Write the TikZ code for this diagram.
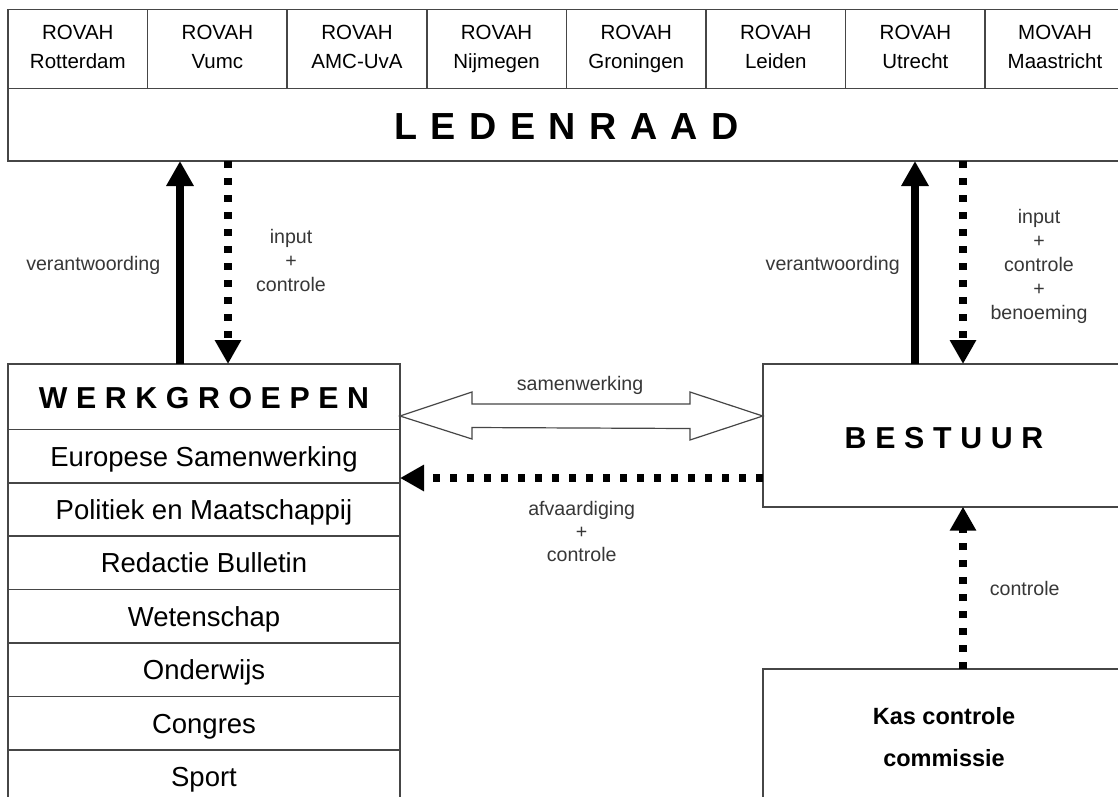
\documentclass[tikz,border=0pt]{standalone}
\usepackage{fontspec}
\setmainfont{Liberation Sans}
\usetikzlibrary{arrows.meta,calc}
\definecolor{boxgray}{RGB}{70,70,70}
\definecolor{labelgray}{RGB}{55,55,55}
\newlength\lsp
\begin{document}
\begin{tikzpicture}[x=1pt,y=-1pt,
  box/.style={draw=boxgray, line width=1.6pt, rectangle, inner sep=0pt, outer sep=0pt},
  colbox/.style={box, minimum width=139.6pt, minimum height=79pt, align=center,
                 font=\fontsize{20.5}{29}\selectfont},
  itembox/.style={box, minimum width=392pt, minimum height=53.4pt,
                  font=\fontsize{27.5}{30}\selectfont, text height=20pt, text depth=0pt},
  lbl/.style={inner sep=0pt, outer sep=0pt, text=labelgray, align=center,
              font=\fontsize{19.6}{24}\selectfont},
  solidarr/.style={draw=black, line width=8.5pt, -{Triangle[length=25pt,width=26pt]}},
  dotarr/.style={draw=black, line width=7.5pt, dash pattern=on 7pt off 10pt,
                 -{Triangle[length=24pt,width=25pt]}},
  dblarrow/.style={draw=boxgray, line width=1.2pt, fill=white, line join=miter}
]
\useasboundingbox (0,0) rectangle (1118,796);
\clip (0,0) rectangle (1118,796);
\fill[white] (0,0) rectangle (1118,796);

% top row
\foreach \i/\a/\b in {1/ROVAH/Rotterdam, 2/ROVAH/Vumc, 3/ROVAH/AMC-UvA, 4/ROVAH/Nijmegen,
                      5/ROVAH/Groningen, 6/ROVAH/Leiden, 7/ROVAH/Utrecht, 8/MOVAH/Maastricht}
  \node[colbox] (r\i) at ({77.8+139.6*(\i-1)},48.8)
    {\rule{0pt}{15pt}\a\\\b\rule[-5pt]{0pt}{5pt}};

% ledenraad
\node[box, minimum width=1117pt, minimum height=72.7pt, text height=29.3pt, text depth=0pt,
      font=\fontsize{37.7}{40}\selectfont\bfseries] (leden) at (566.5,124.65)
  {\setlength\lsp{13.5pt}L\kern\lsp E\kern\lsp D\kern\lsp E\kern\lsp N\kern\lsp R\kern\lsp A\kern\lsp A\kern\lsp D};

% werkgroepen
\node[box, minimum width=392pt, minimum height=65.3pt, text height=23.4pt, text depth=0pt,
      font=\fontsize{30.3}{32}\selectfont\bfseries] (werk) at (204,396.65)
  {\setlength\lsp{8.6pt}W\kern\lsp E\kern\lsp R\kern\lsp K\kern\lsp G\kern\lsp R\kern\lsp O\kern\lsp E\kern\lsp P\kern\lsp E\kern\lsp N};
\foreach \i/\t in {1/Europese Samenwerking, 2/Politiek en Maatschappij, 3/Redactie Bulletin,
                   4/Wetenschap, 5/Onderwijs, 6/Congres, 7/Sport}
  \node[itembox] (w\i) at (204,{456+53.4*(\i-1)}) {\t};

% bestuur
\node[box, minimum width=362.6pt, minimum height=142.7pt, text height=26pt, text depth=0pt,
      font=\fontsize{30.3}{32}\selectfont\bfseries] (bes) at (944,435.35)
  {\setlength\lsp{8.7pt}B\kern\lsp E\kern\lsp S\kern\lsp T\kern\lsp U\kern\lsp U\kern\lsp R};

% kas controle commissie
\node[box, minimum width=362.6pt, minimum height=142pt, align=center,
      font=\fontsize{23.5}{42}\selectfont\bfseries] (kas) at (944,740)
  {\rule{0pt}{17.5pt}Kas controle\\commissie\rule[-7.5pt]{0pt}{7.5pt}};

% helper coordinates for connector positions
\coordinate (xa) at (180,0);
\coordinate (xb) at (228,0);
\coordinate (xc) at (915,0);
\coordinate (xd) at (963,0);
\coordinate (ya) at (0,416);
\coordinate (yb) at (0,478);

% vertical arrows
\draw[solidarr] (werk.north -| xa) -- (leden.south -| xa);
\draw[dotarr] (leden.south -| xb) -- (werk.north -| xb);
\draw[solidarr] (bes.north -| xc) -- (leden.south -| xc);
\draw[dotarr] (leden.south -| xd) -- (bes.north -| xd);
\draw[dotarr] (kas.north -| xd) -- (bes.south -| xd);
\draw[dotarr] (bes.west |- yb) -- (werk.east |- yb);

% double open arrow (samenwerking)
\draw[dblarrow] (werk.east |- ya) -- ++(72,-24) -- ++(0,12)
   -- ($(bes.west |- ya)+(-72.7,-12)$) -- ++(0,-12) -- (bes.west |- ya)
   -- ++(-72.7,24) -- ++(0,-11.5) -- ($(werk.east |- ya)+(72,11.5)$) -- ++(0,11.5) -- cycle;

% labels
\node[lbl, anchor=base] (l1) at (93.3,270) {verantwoording};
\node[lbl, anchor=north] (l2) at (291,228.3) {\rule{0pt}{15pt}input\\+\\controle};
\node[lbl, anchor=base] (l3) at (832.7,270) {verantwoording};
\node[lbl, anchor=north] (l4) at (1039,208.3) {\rule{0pt}{15pt}input\\+\\controle\\+\\benoeming};
\node[lbl, anchor=base] (l5) at (580,390) {samenwerking};
\node[lbl, anchor=north, font=\fontsize{19.6}{23.4}\selectfont] (l6) at (581.7,500)
  {\rule{0pt}{15pt}afvaardiging\\+\\controle};
\node[lbl, anchor=base] (l7) at (1024.7,595) {controle};
\end{tikzpicture}
\end{document}
